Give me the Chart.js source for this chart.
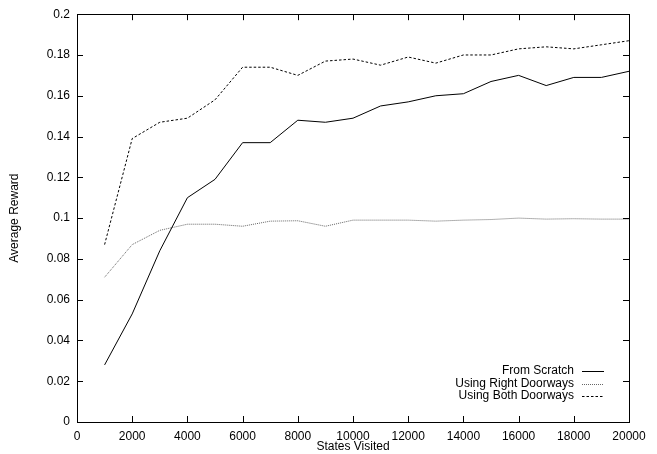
<!DOCTYPE html>
<html lang="en">
<head>
<meta charset="UTF-8" />
<title>Average Reward vs States Visited</title>
<script src="https://cdn.jsdelivr.net/npm/chart.js@4.4.0/dist/chart.umd.min.js"></script>
<style>
  html,body{margin:0;padding:0;background:#fff}
  #wrap{width:657px;height:454px}
</style>
</head>
<body>
<div id="wrap"><canvas id="chart" width="657" height="454"></canvas></div>
<script>
// ---- data ----
const statesVisited = [1000,2000,3000,4000,5000,6000,7000,8000,9000,10000,
                       11000,12000,13000,14000,15000,16000,17000,18000,19000,20000];
const fromScratch = [0.028,0.053,0.084,0.110,0.119,0.137,0.137,0.148,0.147,0.149,
                     0.155,0.157,0.160,0.161,0.167,0.170,0.165,0.169,0.169,0.172];
const rightDoorways = [0.071,0.087,0.094,0.097,0.097,0.096,0.0985,0.0987,0.096,0.099,
                       0.099,0.099,0.0985,0.099,0.0993,0.100,0.0995,0.0997,0.0995,0.0995];
const bothDoorways = [0.087,0.139,0.147,0.149,0.158,0.174,0.174,0.170,0.177,0.178,
                      0.175,0.179,0.176,0.180,0.180,0.183,0.184,0.183,0.185,0.187];
const seriesNames = ['From Scratch','Using Right Doorways','Using Both Doorways'];
const xTicks = [0,2000,4000,6000,8000,10000,12000,14000,16000,18000,20000];
const yTicks = [0,0.02,0.04,0.06,0.08,0.1,0.12,0.14,0.16,0.18,0.2];

const FONT = {family:'"Liberation Sans", Arial, Helvetica, sans-serif', size:12};
Chart.defaults.color = '#000';
Chart.defaults.font = FONT;

const pts = ys => statesVisited.map((x,i)=>({x, y:ys[i]}));

/* box, inward ticks on all four sides, and the key in the lower right */
const gnuplotFrame = {
  id:'gnuplotFrame',
  afterDraw(c){
    const ctx=c.ctx, a=c.chartArea, sx=c.scales.x, sy=c.scales.y, T=6;
    ctx.save();
    ctx.strokeStyle='#000'; ctx.lineWidth=1; ctx.setLineDash([]);
    ctx.strokeRect(Math.round(a.left)+.5, Math.round(a.top)+.5,
                   Math.round(a.right-a.left), Math.round(a.bottom-a.top));
    ctx.beginPath();
    xTicks.forEach(v=>{
      const px=Math.round(sx.getPixelForValue(v))+.5;
      ctx.moveTo(px,a.bottom); ctx.lineTo(px,a.bottom-T);
      ctx.moveTo(px,a.top); ctx.lineTo(px,a.top+T);
    });
    yTicks.forEach(v=>{
      const py=Math.round(sy.getPixelForValue(v))+.5;
      ctx.moveTo(a.left,py); ctx.lineTo(a.left+T,py);
      ctx.moveTo(a.right,py); ctx.lineTo(a.right-T,py);
    });
    ctx.stroke();

    // key
    ctx.font = `${FONT.size}px ${FONT.family}`;
    ctx.textAlign='right'; ctx.textBaseline='middle'; ctx.fillStyle='#000';
    const textRight=574, l0=582, l1=604, rowY=[371,383.5,396];
    c.data.datasets.forEach((ds,i)=>{
      ctx.fillText(ds.label, textRight, rowY[i]);
      ctx.strokeStyle=ds.borderColor; ctx.lineWidth=ds.borderWidth;
      ctx.setLineDash(ds.borderDash||[]);
      ctx.beginPath(); ctx.moveTo(l0,Math.round(rowY[i])+.5); ctx.lineTo(l1,Math.round(rowY[i])+.5); ctx.stroke();
    });
    ctx.restore();
  }
};

new Chart(document.getElementById('chart'), {
  type:'line',
  data:{datasets:[
    {label:seriesNames[0], data:pts(fromScratch), borderColor:'#000', borderWidth:1,
     pointRadius:0, tension:0, fill:false},
    {label:seriesNames[1], data:pts(rightDoorways), borderColor:'#666', borderWidth:1,
     borderDash:[1,1], pointRadius:0, tension:0, fill:false},
    {label:seriesNames[2], data:pts(bothDoorways), borderColor:'#000', borderWidth:1,
     borderDash:[2.5,2], pointRadius:0, tension:0, fill:false}
  ]},
  options:{
    responsive:false, animation:false, devicePixelRatio:1,
    layout:{padding:{top:13, right:28, left:0, bottom:0}},
    plugins:{legend:{display:false}, tooltip:{enabled:false}},
    scales:{
      x:{type:'linear', min:0, max:20000,
         afterFit:s=>{s.height=32;},
         afterBuildTicks:s=>{s.ticks=xTicks.map(v=>({value:v}));},
         ticks:{padding:7, maxRotation:0, autoSkip:false, callback:v=>String(v)},
         grid:{display:false, drawTicks:false}, border:{display:false},
         title:{display:true, text:'States Visited', padding:{top:0,bottom:0}}},
      y:{type:'linear', min:0, max:0.2,
         afterFit:s=>{s.width=77;},
         afterBuildTicks:s=>{s.ticks=yTicks.map(v=>({value:v}));},
         ticks:{padding:7, autoSkip:false, callback:v=>String(+v.toFixed(2))},
         grid:{display:false, drawTicks:false}, border:{display:false},
         title:{display:true, text:'Average Reward', padding:{top:7,bottom:0}}}
    }
  },
  plugins:[gnuplotFrame]
});
</script>
</body>
</html>
